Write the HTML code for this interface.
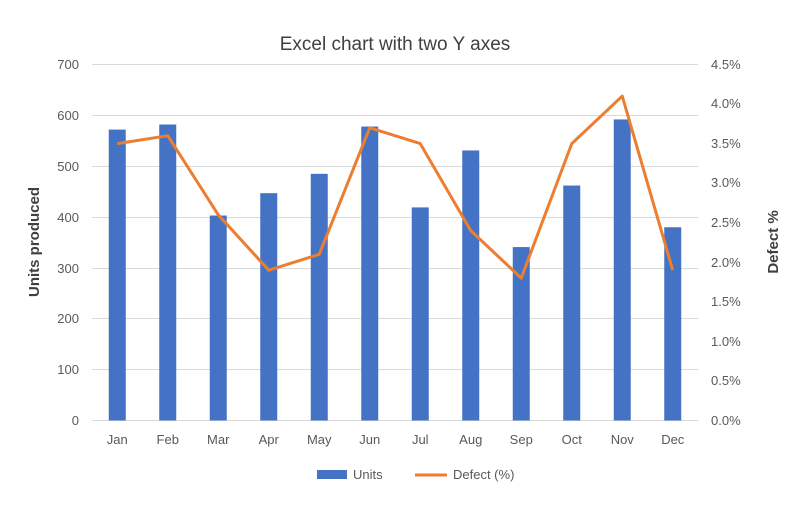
<!DOCTYPE html>
<html><head><style>body{margin:0;background:#fff}</style></head><body>
<svg width="800" height="502" xmlns="http://www.w3.org/2000/svg" font-family="Liberation Sans, sans-serif">
<rect width="800" height="502" fill="#fff"/>
<text x="395" y="50" font-size="19" fill="#404040" text-anchor="middle">Excel chart with two Y axes</text>
<g stroke="#d9d9d9" stroke-width="1">
<line x1="92" x2="698" y1="64.5" y2="64.5"/><line x1="92" x2="698" y1="115.5" y2="115.5"/><line x1="92" x2="698" y1="166.5" y2="166.5"/><line x1="92" x2="698" y1="217.5" y2="217.5"/><line x1="92" x2="698" y1="268.5" y2="268.5"/><line x1="92" x2="698" y1="318.5" y2="318.5"/><line x1="92" x2="698" y1="369.5" y2="369.5"/><line x1="92" x2="698" y1="420.5" y2="420.5"/>
</g>
<g font-size="13" fill="#595959" text-anchor="end">
<text x="79" y="69">700</text><text x="79" y="120">600</text><text x="79" y="171">500</text><text x="79" y="222">400</text><text x="79" y="273">300</text><text x="79" y="323">200</text><text x="79" y="374">100</text><text x="79" y="425">0</text>
</g>
<g font-size="13" fill="#595959">
<text x="711" y="69">4.5%</text><text x="711" y="108">4.0%</text><text x="711" y="148">3.5%</text><text x="711" y="187">3.0%</text><text x="711" y="227">2.5%</text><text x="711" y="267">2.0%</text><text x="711" y="306">1.5%</text><text x="711" y="346">1.0%</text><text x="711" y="385">0.5%</text><text x="711" y="425">0.0%</text>
</g>
<text transform="translate(39,242) rotate(-90)" font-size="15" font-weight="bold" fill="#404040" text-anchor="middle">Units produced</text>
<text transform="translate(778,242) rotate(-90)" font-size="15" font-weight="bold" fill="#404040" text-anchor="middle">Defect %</text>
<g fill="#4472c4" id="bars"></g>
<g font-size="13" fill="#595959" text-anchor="middle" id="xl"></g>
<polyline id="ln" fill="none" stroke="#ed7d31" stroke-width="3" stroke-linejoin="round"/>
<rect x="317" y="470" width="30" height="9" fill="#4472c4"/>
<text x="353" y="479" font-size="13" fill="#595959">Units</text>
<line x1="415" x2="447" y1="475" y2="475" stroke="#ed7d31" stroke-width="3"/>
<text x="453" y="479" font-size="13" fill="#595959">Defect (%)</text>
</svg>
<script>
var m=["Jan","Feb","Mar","Apr","May","Jun","Jul","Aug","Sep","Oct","Nov","Dec"],
u=[572,582,403,447,485,578,419,531,341,462,592,380],
d=[3.5,3.6,2.6,1.9,2.1,3.7,3.5,2.4,1.8,3.5,4.1,1.9],
ns="http://www.w3.org/2000/svg",b=document.getElementById("bars"),x=document.getElementById("xl"),p=[];
for(var i=0;i<12;i++){var c=92+50.5*(i+0.5),h=u[i]/700*356;
var r=document.createElementNS(ns,"rect");r.setAttribute("x",c-8.5);r.setAttribute("y",420.5-h);r.setAttribute("width",17);r.setAttribute("height",h);b.appendChild(r);
var t=document.createElementNS(ns,"text");t.setAttribute("x",c);t.setAttribute("y",444);t.textContent=m[i];x.appendChild(t);
p.push(c+","+(420.5-d[i]/4.5*356));}
document.getElementById("ln").setAttribute("points",p.join(" "));
</script>
</body></html>
